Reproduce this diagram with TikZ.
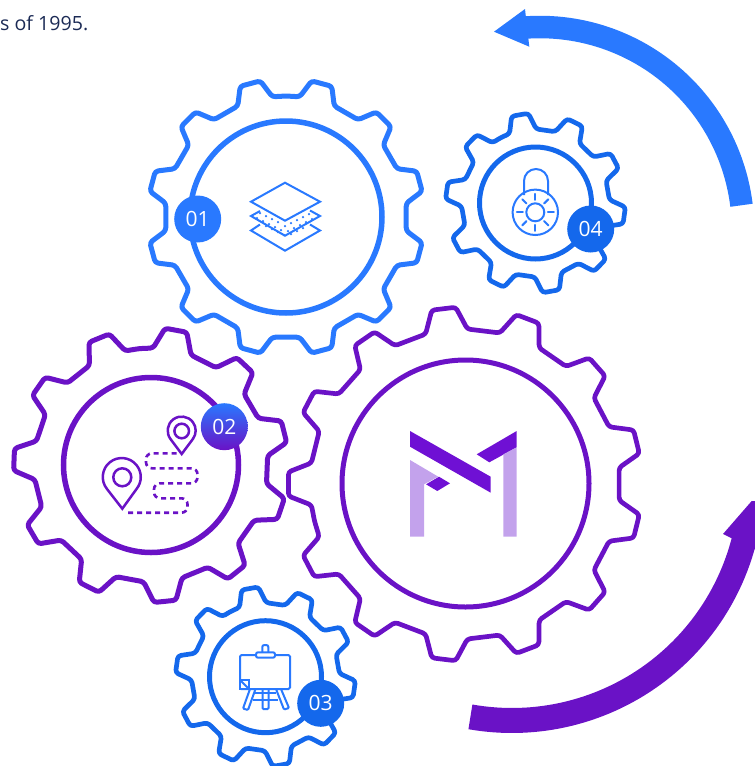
\documentclass[tikz,border=0pt]{standalone}
\usepackage{fontspec}
\setmainfont{Open Sans}
\definecolor{gblue}{HTML}{2979FF}
\definecolor{gdeep}{HTML}{1468EC}
\definecolor{gpurple}{HTML}{6A12C6}
\definecolor{mdark}{HTML}{6F10D4}
\definecolor{mlight}{HTML}{C3A2EC}
\definecolor{txtnavy}{HTML}{1B2A55}
\tikzset{
  gearline/.style={line width=#1,rounded corners=3pt,line join=round},
  ringline/.style={line width=#1},
  badge/.style={circle,minimum size=47pt,inner sep=0pt,text=white,font=\fontsize{21}{21}\selectfont},
  iconline/.style={draw=gblue,line width=2pt},
  routeline/.style={draw=gpurple,line width=2.6pt,dash pattern=on 5pt off 4pt,rounded corners=6pt},
  pinline/.style={draw=gpurple,line width=2.5pt},
}
% cx cy teeth offset rootR tipR rootHalf tipHalf style
\newcommand{\gearshape}[9]{%
  \begin{scope}[shift={(#1,#2)}]
  \draw[#9] ({#4-180/#3}:#5)
    \foreach \k [evaluate=\k as \a using {#4+\k*360/#3}] in {0,...,\numexpr#3-1\relax}{
      -- (\a-#7:#5) -- (\a-#8:#6) -- (\a+#8:#6) -- (\a+#7:#5)
    } -- cycle;
  \end{scope}}
\begin{document}
\begin{tikzpicture}[x=1pt,y=-1pt]
\useasboundingbox (0,0) rectangle (755,766);
\node[anchor=base west,inner sep=0pt,text=txtnavy,font=\fontsize{19.6}{22}\selectfont] (intro) at (0,30) {s of 1995.};
% arrows
\draw[gblue,line width=22.5pt] plot[domain=-94:-7,samples=60] ({540+203*cos(\x)},{230+203*sin(\x)});
\fill[gblue] (494,31.7) -- (525,9) -- (529.3,46.7) -- cycle;
\draw[gpurple,line width=25pt] plot[domain=100:12,samples=60] ({512+239.5*cos(\x)},{481+239.5*sin(\x)});
\fill[gpurple] (751.7,501) -- (723,534) -- (760,552) -- (760,501) -- cycle;
% gears
\gearshape{286}{217}{12}{-75}{121}{138.5}{8.5}{4.3}{draw=gblue,gearline=5pt}
\draw[gblue,ringline=5.5pt] (286,217) circle[radius=96];
\gearshape{151}{465}{11}{-79.5}{117}{137.5}{9.5}{4.6}{draw=gpurple,gearline=5pt}
\draw[gpurple,ringline=5.5pt] (151,465) circle[radius=87.5];
\gearshape{465}{484}{13}{180}{155}{177}{7.8}{3.9}{draw=gpurple,gearline=4.7pt}
\draw[gpurple,ringline=5pt] (465.5,483.5) circle[radius=123.5];
\gearshape{535.5}{203}{10}{-100}{74}{90}{10.5}{5.4}{draw=gdeep,gearline=4.7pt}
\draw[gdeep,ringline=5pt] (535.5,203) circle[radius=56];
\gearshape{265.5}{676.7}{10}{-100}{74}{90}{10.5}{5.4}{draw=gdeep,gearline=4.7pt}
\draw[gdeep,ringline=5pt] (265.5,676.7) circle[radius=56];
% badges
\node[badge,fill=gblue] (b1) at (197.7,219) {01};
\node[badge,top color=gblue,bottom color=gpurple,draw=none] (b2) at (224.3,426.7) {02};
\node[badge,fill=gdeep] (b3) at (320.7,703.3) {03};
\node[badge,fill=gdeep] (b4) at (590.7,229) {04};
% layers icon
\foreach \px/\py in {260/213,266/216,272/219,278/222,257/218,263/221,269/224,275/227,281/230,266/226,272/229,278/232,284/235,285/226,291/223,297/220,303/217,309/214,288/231,294/228,300/225,306/222,312/219,291/234,297/231,303/228}
  \fill[gblue] (\px,\py) circle[radius=1.25];
\draw[iconline,line join=miter] (285,182.7) -- (320,201.7) -- (285,220.7) -- (251,201.7) -- cycle;
\draw[iconline,line join=miter] (260,211) -- (251,216) -- (285,235.7) -- (320,216) -- (310,210.5);
\draw[iconline,line join=miter] (260,224.5) -- (251,230.5) -- (285,250.7) -- (320,230.5) -- (310,224.5);
% lock icon
\draw[iconline] (524,195) -- (524,181) arc[start angle=180,end angle=360,radius=12] -- (548,195);
\draw[iconline] (535.3,212.3) circle[radius=22.7];
\draw[iconline] (535.3,212.3) circle[radius=9];
\foreach \ang in {0,45,...,315}
  \draw[iconline,line cap=round] (535.3,212.3) ++(\ang:12.5) -- ++(\ang:6);
% route icon
\draw[routeline] (176.7,453.3) -- (146,453.3) -- (146,468.3) -- (197.5,468.3) -- (197.5,483.3) -- (154,483.3) -- (154,498.3) -- (187.5,498.3) -- (187.5,512.7) -- (126.7,512.7);
\draw[pinline,line join=miter] (181.7,454) -- (170.5,439) arc[start angle=143,end angle=397,radius=14] -- cycle;
\draw[pinline] (181.7,431) circle[radius=7.3];
\draw[pinline,line join=miter] (122.3,508.7) -- (107,489) arc[start angle=141,end angle=399,radius=19] -- cycle;
\draw[pinline] (122.3,477.3) circle[radius=9];
% easel icon
\draw[iconline,rounded corners=1.5pt] (240,655) rectangle (290,689);
\draw[iconline,fill=white,rounded corners=2pt] (256,652.3) rectangle (275,657.7);
\draw[iconline,rounded corners=2pt] (262.3,652.3) -- (262.3,645) -- (268.3,645) -- (268.3,652.3);
\draw[iconline,fill=white] (240,680) -- (249,680) -- (249,689) -- (240,689) -- cycle;
\draw[iconline] (240,680) -- (249,689);
\draw[iconline,rounded corners=1pt] (250,689) -- (243,708.5) -- (248,710) -- (255.5,689);
\draw[iconline,rounded corners=1pt] (262.5,689) -- (262.5,709) -- (268.5,709) -- (268.5,689);
\draw[iconline,rounded corners=1pt] (276,689) -- (284,709.5) -- (289,708) -- (281,689);
\draw[iconline] (253,700) -- (278,700);
\draw[iconline] (255,693) -- (276,693);
% logo
\fill[mdark] (410,431) -- (490.7,476.7) -- (490.7,492.7) -- (410,446.7) -- cycle;
\fill[mdark] (516.7,431) -- (516.7,447.3) -- (489.3,462.3) -- (476.7,454.3) -- cycle;
\fill[mdark] (439,476.7) -- (450,483.3) -- (437.3,491) -- (426,484.3) -- cycle;
\fill[mlight] (410,460) -- (438.3,476.7) -- (424,484.3) -- (424,536.7) -- (410,536.7) -- cycle;
\fill[mlight] (503.3,454.3) -- (516.7,447.3) -- (516.7,536.7) -- (503.3,536.7) -- cycle;
\end{tikzpicture}
\end{document}
